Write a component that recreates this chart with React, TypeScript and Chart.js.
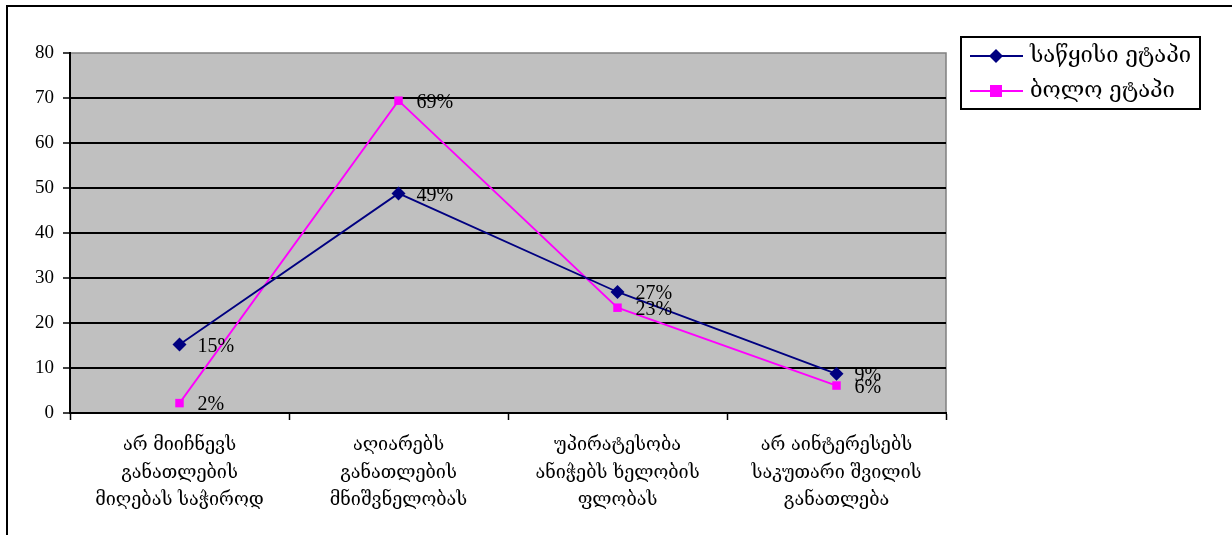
import React, { useEffect, useRef } from "react";
import { Chart, registerables } from "chart.js";

Chart.register(...registerables);

const categories: string[][] = [
  ["არ მიიჩნევს", "განათლების", "მიღებას საჭიროდ"],
  ["აღიარებს", "განათლების", "მნიშვნელობას"],
  ["უპირატესობა", "ანიჭებს ხელობის", "ფლობას"],
  ["არ აინტერესებს", "საკუთარი შვილის", "განათლება"],
];
const seriesNames = ["საწყისი ეტაპი", "ბოლო ეტაპი"];
const startValues = [15.2, 48.8, 26.9, 8.7];
const endValues = [2.2, 69.4, 23.4, 6.1];
const startLabels = ["15%", "49%", "27%", "9%"];
const endLabels = ["2%", "69%", "23%", "6%"];
const yTicks = [0, 10, 20, 30, 40, 50, 60, 70, 80];

const SERIF = '"Liberation Serif", "DejaVu Serif", serif';
const GEO = '"DejaVu Serif", "Liberation Serif", serif';

const framePlugin = {
  id: "frame",
  beforeDraw(chart: any) {
    const { ctx, chartArea: a } = chart;
    ctx.save();
    ctx.fillStyle = "#ffffff";
    ctx.fillRect(0, 0, chart.width, chart.height);
    ctx.fillStyle = "#C0C0C0";
    ctx.fillRect(a.left, a.top, a.right - a.left, a.bottom - a.top);
    ctx.strokeStyle = "#808080";
    ctx.lineWidth = 1.5;
    ctx.beginPath();
    ctx.moveTo(a.left, a.top);
    ctx.lineTo(a.right, a.top);
    ctx.lineTo(a.right, a.bottom);
    ctx.stroke();
    // outer border
    ctx.strokeStyle = "#000";
    ctx.lineWidth = 2;
    ctx.beginPath();
    ctx.moveTo(7, chart.height + 2);
    ctx.lineTo(7, 6);
    ctx.lineTo(chart.width + 2, 6);
    ctx.stroke();
    ctx.restore();
  },
  afterDatasetsDraw(chart: any) {
    const { ctx } = chart;
    const labelSets = [startLabels, endLabels];
    ctx.save();
    ctx.font = `20px ${SERIF}`;
    ctx.fillStyle = "#000";
    ctx.textBaseline = "middle";
    ctx.textAlign = "left";
    labelSets.forEach((labels, di) => {
      const meta = chart.getDatasetMeta(di);
      meta.data.forEach((pt: any, i: number) => {
        ctx.fillText(labels[i], pt.x + 18, pt.y + 2);
      });
    });
    // legend
    const bx = 961, by = 37, bw = 239, bh = 72;
    ctx.fillStyle = "#fff";
    ctx.fillRect(bx, by, bw, bh);
    ctx.strokeStyle = "#000";
    ctx.lineWidth = 2;
    ctx.strokeRect(bx, by, bw, bh);
    const rows = [56, 91];
    chart.data.datasets.forEach((ds: any, di: number) => {
      const y = rows[di];
      ctx.strokeStyle = ds.borderColor;
      ctx.lineWidth = 2;
      ctx.beginPath();
      ctx.moveTo(970, y);
      ctx.lineTo(1023, y);
      ctx.stroke();
      ctx.fillStyle = ds.backgroundColor;
      if (ds.pointStyle === "rectRot") {
        ctx.beginPath();
        ctx.moveTo(996, y - 7);
        ctx.lineTo(1003, y);
        ctx.lineTo(996, y + 7);
        ctx.lineTo(989, y);
        ctx.closePath();
        ctx.fill();
      } else {
        ctx.fillRect(990, y - 6, 12, 12);
      }
      ctx.fillStyle = "#000";
      ctx.font = `22px ${GEO}`;
      ctx.fillText(ds.label, 1030, y);
    });
    ctx.restore();
  },
};

export default function App() {
  const ref = useRef<HTMLCanvasElement>(null);
  useEffect(() => {
    document.body.style.margin = "0";
    document.body.style.overflow = "hidden";
    const chart = new Chart(ref.current!, {
      type: "line",
      data: {
        labels: categories,
        datasets: [
          {
            label: seriesNames[0],
            data: startValues,
            borderColor: "#000080",
            backgroundColor: "#000080",
            borderWidth: 1.8,
            pointStyle: "rectRot",
            pointRadius: 7,
            pointHoverRadius: 7,
            pointBorderWidth: 0,
            tension: 0,
          },
          {
            label: seriesNames[1],
            data: endValues,
            borderColor: "#FF00FF",
            backgroundColor: "#FF00FF",
            borderWidth: 1.8,
            pointStyle: "rect",
            pointRadius: 6,
            pointHoverRadius: 6,
            pointBorderWidth: 0,
            tension: 0,
          },
        ],
      },
      options: {
        responsive: false,
        animation: false,
        layout: { padding: { left: 0, top: 53, right: 286, bottom: 0 } },
        plugins: { legend: { display: false }, tooltip: { enabled: false } },
        scales: {
          x: {
            type: "category",
            offset: true,
            grid: {
              offset: true,
              drawOnChartArea: false,
              drawTicks: true,
              tickLength: 7,
              tickColor: "#000",
              tickWidth: 1.5,
            },
            border: { color: "#000", width: 2 },
            ticks: {
              color: "#000",
              font: { family: GEO, size: 18, lineHeight: 1.55 } as any,
              padding: 11,
              maxRotation: 0,
              autoSkip: false,
            },
            afterFit(scale: any) {
              scale.height = 122;
            },
          },
          y: {
            min: 0,
            max: 80,
            afterBuildTicks(scale: any) {
              scale.ticks = yTicks.map((v) => ({ value: v }));
            },
            grid: {
              color: (c: any) => (c.tick && c.tick.value === 80 ? "rgba(0,0,0,0)" : "#000"),
              lineWidth: 2,
              tickLength: 7,
              tickColor: "#000",
              tickWidth: 1.5,
            },
            border: { color: "#000", width: 2 },
            ticks: {
              color: "#000",
              font: { family: SERIF, size: 19 },
              padding: 9,
            },
            afterFit(scale: any) {
              scale.width = 70;
            },
          },
        },
      },
      plugins: [framePlugin],
    });
    return () => chart.destroy();
  }, []);
  return (
    <canvas
      ref={ref}
      width={1232}
      height={535}
      style={{ position: "fixed", left: 0, top: 0, width: 1232, height: 535 }}
    />
  );
}
